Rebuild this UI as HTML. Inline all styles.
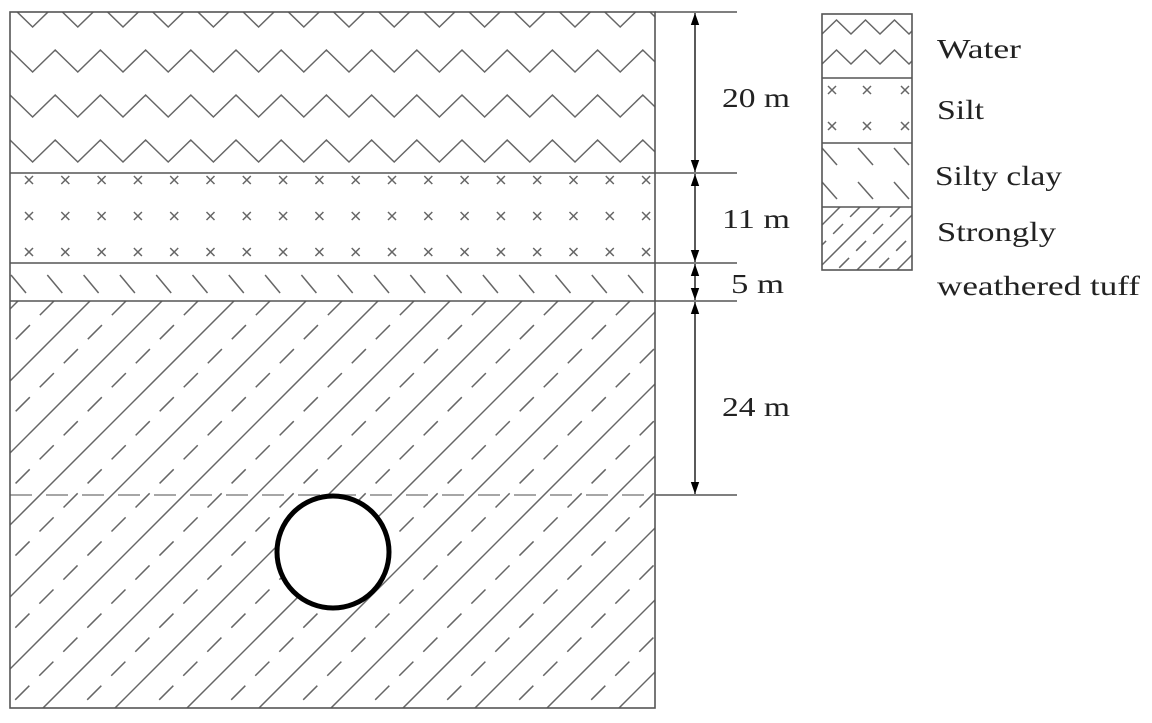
<!DOCTYPE html>
<html><head><meta charset="utf-8"><style>
html,body{margin:0;padding:0;background:#fff}
svg{display:block}
text{font-family:"Liberation Serif",serif;font-size:27px;fill:#222}
</style></head><body>
<svg id="s" width="1152" height="723" viewBox="0 0 1152 723" xmlns="http://www.w3.org/2000/svg">
<defs>
<clipPath id="cw"><rect x="10" y="12" width="645" height="161"/></clipPath>
<clipPath id="cs"><rect x="10" y="173" width="645" height="90"/></clipPath>
<clipPath id="cc"><rect x="10" y="263" width="645" height="38"/></clipPath>
<clipPath id="ct"><rect x="10" y="301" width="645" height="407"/></clipPath>
<clipPath id="lw"><rect x="822" y="14" width="90" height="64"/></clipPath>
<clipPath id="ls"><rect x="822" y="78" width="90" height="65"/></clipPath>
<clipPath id="lc"><rect x="822" y="143" width="90" height="64"/></clipPath>
<clipPath id="lt"><rect x="822" y="207" width="90" height="63"/></clipPath>
<marker id="a" viewBox="0 0 10 10" refX="10" refY="5" markerWidth="12" markerHeight="12" markerUnits="userSpaceOnUse" orient="auto-start-reverse"><path d="M0,1.5 L10,5 L0,8.5z" fill="#000"/></marker>
</defs>
<g id="g" fill="none" stroke="#666" stroke-width="1.5"></g>
<line x1="10" y1="495" x2="655" y2="495" stroke="#888" stroke-width="1.5" stroke-dasharray="22,14"/>
<circle cx="333" cy="552" r="56" fill="#fff" stroke="#000" stroke-width="5"/>
<g stroke="#555" stroke-width="1.6" fill="none">
<rect x="10" y="12" width="645" height="696"/>
<line x1="10" y1="173" x2="737" y2="173"/>
<line x1="10" y1="263" x2="737" y2="263"/>
<line x1="10" y1="301" x2="737" y2="301"/>
<line x1="655" y1="12" x2="737" y2="12"/>
<line x1="655" y1="495" x2="737" y2="495"/>
<rect x="822" y="14" width="90" height="256"/>
<line x1="822" y1="78" x2="912" y2="78"/>
<line x1="822" y1="143" x2="912" y2="143"/>
<line x1="822" y1="207" x2="912" y2="207"/>
</g>
<g stroke="#000" stroke-width="1.3" marker-end="url(#a)" marker-start="url(#a)">
<line x1="695" y1="13" x2="695" y2="172"/>
<line x1="695" y1="174" x2="695" y2="262"/>
<line x1="695" y1="264" x2="695" y2="300"/>
<line x1="695" y1="302" x2="695" y2="494"/>
</g>
<text x="722" y="107" textLength="68" lengthAdjust="spacingAndGlyphs">20 m</text>
<text x="722" y="228" textLength="68" lengthAdjust="spacingAndGlyphs">11 m</text>
<text x="731" y="293" textLength="53" lengthAdjust="spacingAndGlyphs">5 m</text>
<text x="722" y="416" textLength="68" lengthAdjust="spacingAndGlyphs">24 m</text>
<text x="937" y="58" textLength="84" lengthAdjust="spacingAndGlyphs">Water</text>
<text x="937" y="119" textLength="47" lengthAdjust="spacingAndGlyphs">Silt</text>
<text x="935" y="185" textLength="127" lengthAdjust="spacingAndGlyphs">Silty clay</text>
<text x="937" y="241" textLength="119" lengthAdjust="spacingAndGlyphs">Strongly</text>
<text x="937" y="295" textLength="203" lengthAdjust="spacingAndGlyphs">weathered tuff</text>
</svg>
<script>
var g=document.getElementById('g'),NS='http://www.w3.org/2000/svg';
function el(t,a,p){var e=document.createElementNS(NS,t);for(var k in a)e.setAttribute(k,a[k]);(p||g).appendChild(e);return e;}
function grp(c){return el('g',{'clip-path':'url(#'+c+')'});}
var w=grp('cw');
[5,50,95,140].forEach(function(py){var d='';for(var i=0;i<=30;i++){var x=10+i*45.2;d+=(i?'L':'M')+x+','+py+' L'+(x+22.6)+','+(py+22);}el('path',{d:d},w);});
function xm(x,y,p){el('path',{d:'M'+(x-4)+','+(y-4)+'L'+(x+4)+','+(y+4)+'M'+(x+4)+','+(y-4)+'L'+(x-4)+','+(y+4)},p);}
var s=grp('cs');
[180,216,252].forEach(function(y){for(var x=29;x<655;x+=36.3){xm(x,y,s);}});
var c=grp('cc');
for(var x=11;x<660;x+=36.3){el('line',{x1:x,y1:275,x2:x+15,y2:293},c);}
var t=grp('ct');
for(var k=-10;k<30;k++){var x0=90+k*72;el('line',{x1:x0,y1:301,x2:x0-420,y2:721},t);
el('line',{x1:x0+36,y1:301,x2:x0+36-420,y2:721,'stroke-dasharray':'20,14'},t);}
var lw=grp('lw');
[20,50].forEach(function(py){var d='';for(var i=0;i<4;i++){var x=822+i*29;d+=(i?'L':'M')+x+','+(py+14)+' L'+(x+14.5)+','+py;}d+='L'+(822+4*29)+','+(py+14);el('path',{d:d},lw);});
var ls=grp('ls');
[90,126].forEach(function(y){[832,867,905].forEach(function(x){xm(x,y,ls);});});
var lc=grp('lc');
[[822,148],[858,148],[894,148],[822,182],[858,182],[894,182]].forEach(function(p){el('line',{x1:p[0],y1:p[1],x2:p[0]+15,y2:p[1]+17},lc);});
var lt=grp('lt');
for(var k=0;k<5;k++){var x0=800+k*40;el('line',{x1:x0,y1:207,x2:x0-80,y2:287},lt);el('line',{x1:x0+20,y1:207,x2:x0-60,y2:287,'stroke-dasharray':'14,10'},lt);}
</script>
</body></html>
